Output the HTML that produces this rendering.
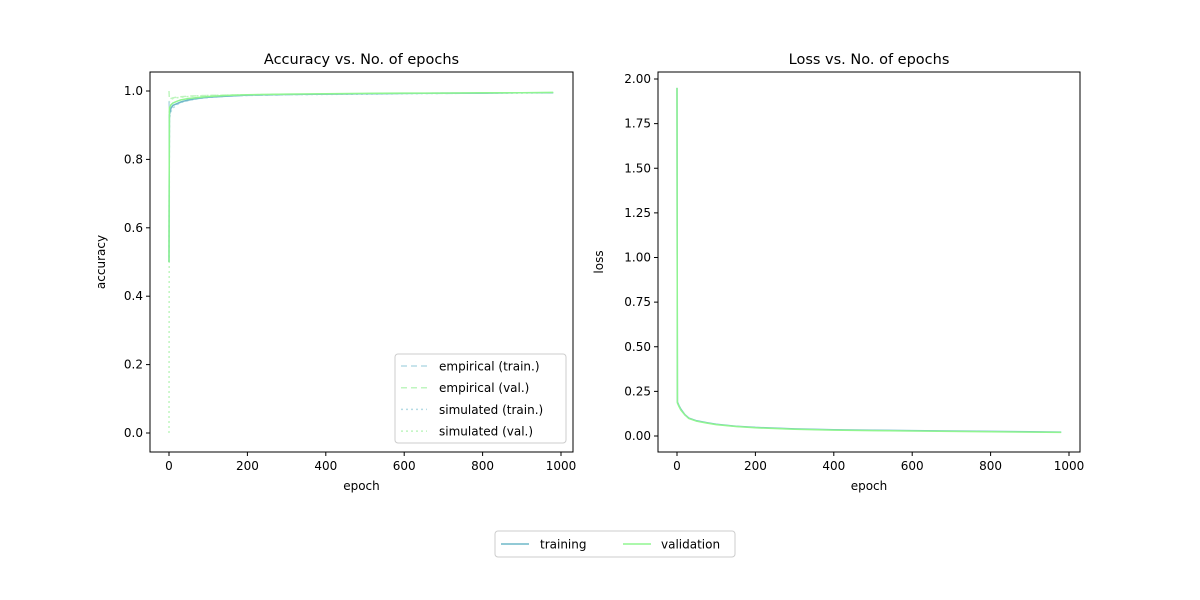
<!DOCTYPE html>
<html><head><meta charset="utf-8"><style>
body{margin:0;background:#fff;}
svg{display:block;font-family:"DejaVu Sans","Liberation Sans",sans-serif;}
</style></head><body>
<svg id="c" width="1200" height="600" viewBox="0 0 1200 600"></svg>
<script>
const epochs=[0,1,5,10,20,30,50,75,100,150,200,300,400,500,600,700,800,900,980];
const accTrain=[0.5,0.93,0.95,0.958,0.963,0.968,0.974,0.979,0.982,0.985,0.988,0.990,0.991,0.992,0.993,0.994,0.994,0.995,0.995];
const accVal=[0.5,0.95,0.96,0.965,0.97,0.974,0.978,0.981,0.984,0.987,0.989,0.991,0.992,0.993,0.994,0.994,0.995,0.995,0.996];
const simTrain=[0.5,0.92,0.94,0.95,0.96,0.966,0.972,0.978,0.981,0.985,0.987,0.989,0.990,0.991,0.992,0.993,0.994,0.994,0.995];
const simVal=[0.0,0.97,0.975,0.978,0.98,0.982,0.984,0.986,0.987,0.988,0.989,0.990,0.991,0.992,0.993,0.994,0.994,0.995,0.995];
const empTrain=[0.97,0.94,0.95,0.955,0.962,0.967,0.973,0.978,0.982,0.985,0.987,0.989,0.991,0.992,0.993,0.993,0.994,0.995,0.995];
const empVal=[1.0,0.975,0.978,0.98,0.982,0.983,0.985,0.986,0.987,0.988,0.989,0.990,0.991,0.992,0.993,0.994,0.994,0.995,0.995];
const lossTrain=[1.95,0.19,0.17,0.15,0.12,0.10,0.085,0.075,0.066,0.055,0.048,0.040,0.035,0.032,0.030,0.028,0.026,0.024,0.022];
const lossVal=[1.95,0.185,0.165,0.145,0.118,0.098,0.083,0.073,0.064,0.053,0.046,0.038,0.033,0.030,0.028,0.026,0.024,0.022,0.020];
const xTicks=[0,200,400,600,800,1000];
const accTicks=[0,0.2,0.4,0.6,0.8,1.0];
const lossTicks=[0,0.25,0.5,0.75,1.0,1.25,1.5,1.75,2.0];

const NS="http://www.w3.org/2000/svg";
const svg=document.getElementById('c');
function el(t,a,p){const e=document.createElementNS(NS,t);for(const k in a)e.setAttribute(k,a[k]);(p||svg).appendChild(e);return e;}
function txt(s,a,p){const e=el('text',a,p);e.textContent=s;return e;}

const L={x0:150,x1:573,y0:72,y1:452,sx:v=>169+v*0.392,sy:v=>433-v*342};
const R={x0:658,x1:1080,y0:72,y1:452,sx:v=>677+v*0.392,sy:v=>436-v*178.5};

function axes(P,name,title,ylabel,yt,fmt,yoff){
  const g=el('g',{});
  
  
  xTicks.forEach(t=>{const x=P.sx(t);
    const l=el('line',{x1:x,x2:x,y1:P.y1,y2:P.y1+4,stroke:'#000'},g);
    
    const tx=txt(String(t),{x:x,y:P.y1+18,'text-anchor':'middle','font-size':12},g);
    });
  yt.forEach(t=>{const y=P.sy(t);
    const l=el('line',{x1:P.x0-4,x2:P.x0,y1:y,y2:y,stroke:'#000'},g);
    
    const tx=txt(fmt(t),{x:P.x0-7,y:y+4,'text-anchor':'end','font-size':12},g);
    });
  const t1=txt(title,{x:(P.x0+P.x1)/2,y:64,'text-anchor':'middle','font-size':14.5},g);
  
  const t2=txt('epoch',{x:(P.x0+P.x1)/2,y:490,'text-anchor':'middle','font-size':12},g);
  
  const yc=(P.y0+P.y1)/2;
  const t3=txt(ylabel,{x:P.x0-yoff,y:yc,'text-anchor':'middle','font-size':12,transform:`rotate(-90 ${P.x0-yoff} ${yc})`},g);
  
  return g;
}
function line(P,ys,color,dash,w,name){
  const d=epochs.map((e,i)=>(i?'L':'M')+P.sx(e).toFixed(1)+','+P.sy(ys[i]).toFixed(1)).join('');
  const p=el('path',{d:d,fill:'none',stroke:color,'stroke-width':w,'stroke-dasharray':dash||'none'});
  
  
}
function frame(P,name){
  const r=el('rect',{x:P.x0,y:P.y0,width:P.x1-P.x0,height:P.y1-P.y0,fill:'none',stroke:'#000','stroke-width':1});
  
  
}
const blue='#6fb8c8',green='#90f590',lblue='#b5dbe5',lgreen='#bff5bf';
axes(L,'accuracy-axes','Accuracy vs. No. of epochs','accuracy',accTicks,v=>v.toFixed(1),45);
axes(R,'loss-axes','Loss vs. No. of epochs','loss',lossTicks,v=>v.toFixed(2),55);
line(L,simTrain,lblue,'2,3',1.5,'simulated-train-line');
line(L,simVal,lgreen,'2,3',1.5,'simulated-val-line');
line(L,empTrain,lblue,'6,4',1.5,'empirical-train-line');
line(L,empVal,lgreen,'6,4',1.5,'empirical-val-line');
line(L,accTrain,blue,'',1.5,'accuracy-train-line');
line(L,accVal,green,'',1.5,'accuracy-val-line');
line(R,lossTrain,blue,'',1.5,'loss-train-line');
line(R,lossVal,green,'',1.5,'loss-val-line');
frame(L,'accuracy-frame');frame(R,'loss-frame');

const lg=el('g',{});


el('rect',{x:395,y:354,width:171,height:89,rx:3,fill:'#fff','fill-opacity':0.8,stroke:'#ccc'},lg);
[['empirical (train.)',lblue,'6,4'],['empirical (val.)',lgreen,'6,4'],['simulated (train.)',lblue,'2,3'],['simulated (val.)',lgreen,'2,3']].forEach((it,i)=>{
  const y=366+i*21.7;
  const ln=el('line',{x1:401,x2:427,y1:y,y2:y,stroke:it[1],'stroke-width':1.5,'stroke-dasharray':it[2]},lg);
  
  const t=txt(it[0],{x:439,y:y+4.5,'font-size':12},lg);
  
});
const bg=el('g',{});


el('rect',{x:495,y:531,width:240,height:26,rx:3,fill:'#fff',stroke:'#ccc'},bg);
[['training',blue,501,540],['validation',green,623,661]].forEach(it=>{
  const ln=el('line',{x1:it[2],x2:it[2]+28,y1:544,y2:544,stroke:it[1],'stroke-width':1.5},bg);
  
  const t=txt(it[0],{x:it[3],y:548.5,'font-size':12},bg);
  
});
</script>
</body></html>
